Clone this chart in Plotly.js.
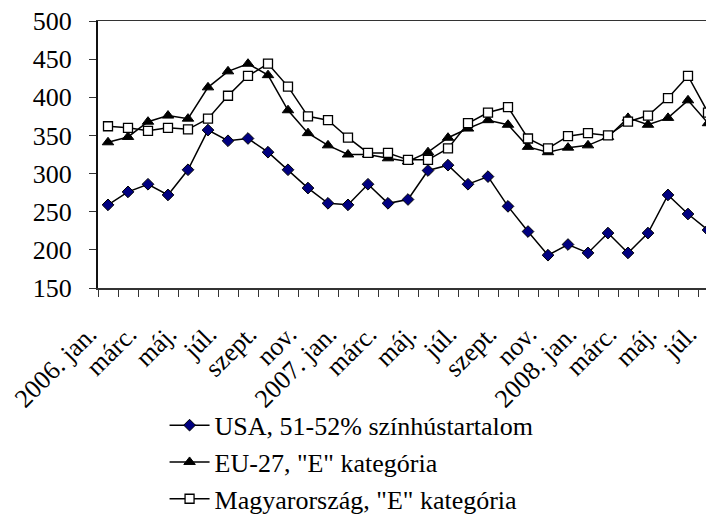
<!DOCTYPE html>
<html>
<head>
<meta charset="utf-8">
<script src="https://cdn.plot.ly/plotly-3.0.1.min.js"></script>
<style>
html, body { margin: 0; padding: 0; overflow: hidden; width: 706px; height: 514px; background: #fff; }
#chart { width: 760px; height: 514px; }
</style>
</head>
<body>
<div id="chart"></div>
<script>
// Months (categories), 2006 jan .. 2008 júl
const months = [
  "2006. jan.", "febr.", "márc.", "ápr.", "máj.", "jún.", "júl.", "aug.", "szept.", "okt.", "nov.", "dec.",
  "2007. jan.", "febr.", "márc.", "ápr.", "máj.", "jún.", "júl.", "aug.", "szept.", "okt.", "nov.", "dec.",
  "2008. jan.", "febr.", "márc.", "ápr.", "máj.", "jún.", "júl."
];

const seriesNames = [
  "USA, 51-52% színhústartalom",
  "EU-27, \"E\" kategória",
  "Magyarország, \"E\" kategória"
];

const usa = [259, 276, 286, 272, 305, 357, 343, 346, 328, 305, 281, 261,
             259, 286, 261, 266, 304, 311, 286, 296, 257, 224, 193, 207,
             196, 222, 196, 222, 272, 247, 226];

const eu27 = [341, 348, 368, 376, 372, 413, 434, 444, 429, 383, 353, 337,
              325, 325, 320, 316, 328, 347, 359, 370, 364, 335, 328, 334,
              337, 348, 373, 364, 373, 396, 366];

const hungary = [362, 360, 356, 360, 358, 372, 402, 428, 444, 414, 375, 370,
                 347, 327, 327, 318, 318, 333, 366, 380, 387, 346, 333, 349,
                 353, 350, 368, 376, 399, 428, 380];

const yTicks = [150, 200, 250, 300, 350, 400, 450, 500];

const idx = months.map((m, i) => i);
const labelIdx = idx.filter(i => i % 2 === 0);
const labelText = labelIdx.map(i => months[i]);

const FONT = '"Liberation Serif"';

const traces = [
  {
    x: idx, y: usa, name: seriesNames[0], type: "scatter", mode: "lines+markers",
    line: { color: "#000000", width: 1.5 },
    marker: { symbol: "diamond", size: 9, color: "#000080", line: { color: "#000000", width: 1 } }
  },
  {
    x: idx, y: eu27, name: seriesNames[1], type: "scatter", mode: "lines+markers",
    line: { color: "#000000", width: 1.5 },
    marker: { symbol: "triangle-up", size: 10, color: "#000000", line: { color: "#000000", width: 1 } }
  },
  {
    x: idx, y: hungary, name: seriesNames[2], type: "scatter", mode: "lines+markers",
    line: { color: "#000000", width: 1.5 },
    marker: { symbol: "square", size: 9, color: "#ffffff", line: { color: "#000000", width: 1.3 } }
  }
];

const layout = {
  width: 760, height: 514,
  margin: { l: 98, r: 22, t: 21, b: 226, autoexpand: false },
  paper_bgcolor: "#ffffff", plot_bgcolor: "#ffffff",
  font: { family: FONT, size: 26, color: "#000000" },
  showlegend: true,
  legend: {
    x: 0.104, y: -0.426, xanchor: "left", yanchor: "top",
    itemwidth: 40,
    bgcolor: "rgba(0,0,0,0)", font: { family: FONT, size: 26, color: "#000000" },
    tracegroupgap: 0, traceorder: "normal"
  },
  xaxis: {
    type: "linear", range: [-0.5, 31.5],
    tickmode: "array", tickvals: labelIdx, ticktext: labelText,
    ticks: "", tickangle: -45,
    ticklabelshift: -19, ticklabelstandoff: 19,
    tickfont: { family: FONT, size: 26, color: "#000000" },
    showgrid: false, zeroline: false,
    showline: true, linecolor: "#333333", linewidth: 1.5, mirror: true,
    minor: { tickmode: "linear", tick0: -0.5, dtick: 1, ticks: "outside", ticklen: 7, tickwidth: 1, tickcolor: "#333333", showgrid: false }
  },
  yaxis: {
    range: [150, 500], tickmode: "array", tickvals: yTicks,
    ticks: "outside", ticklen: 7, tickwidth: 1, tickcolor: "#333333",
    ticklabelstandoff: 12,
    tickfont: { family: FONT, size: 26, color: "#000000" },
    showgrid: false, zeroline: false,
    showline: true, linecolor: "#111111", linewidth: 2
  }
};

Plotly.newPlot("chart", traces, layout, { staticPlot: true, displayModeBar: false });
</script>
</body>
</html>
